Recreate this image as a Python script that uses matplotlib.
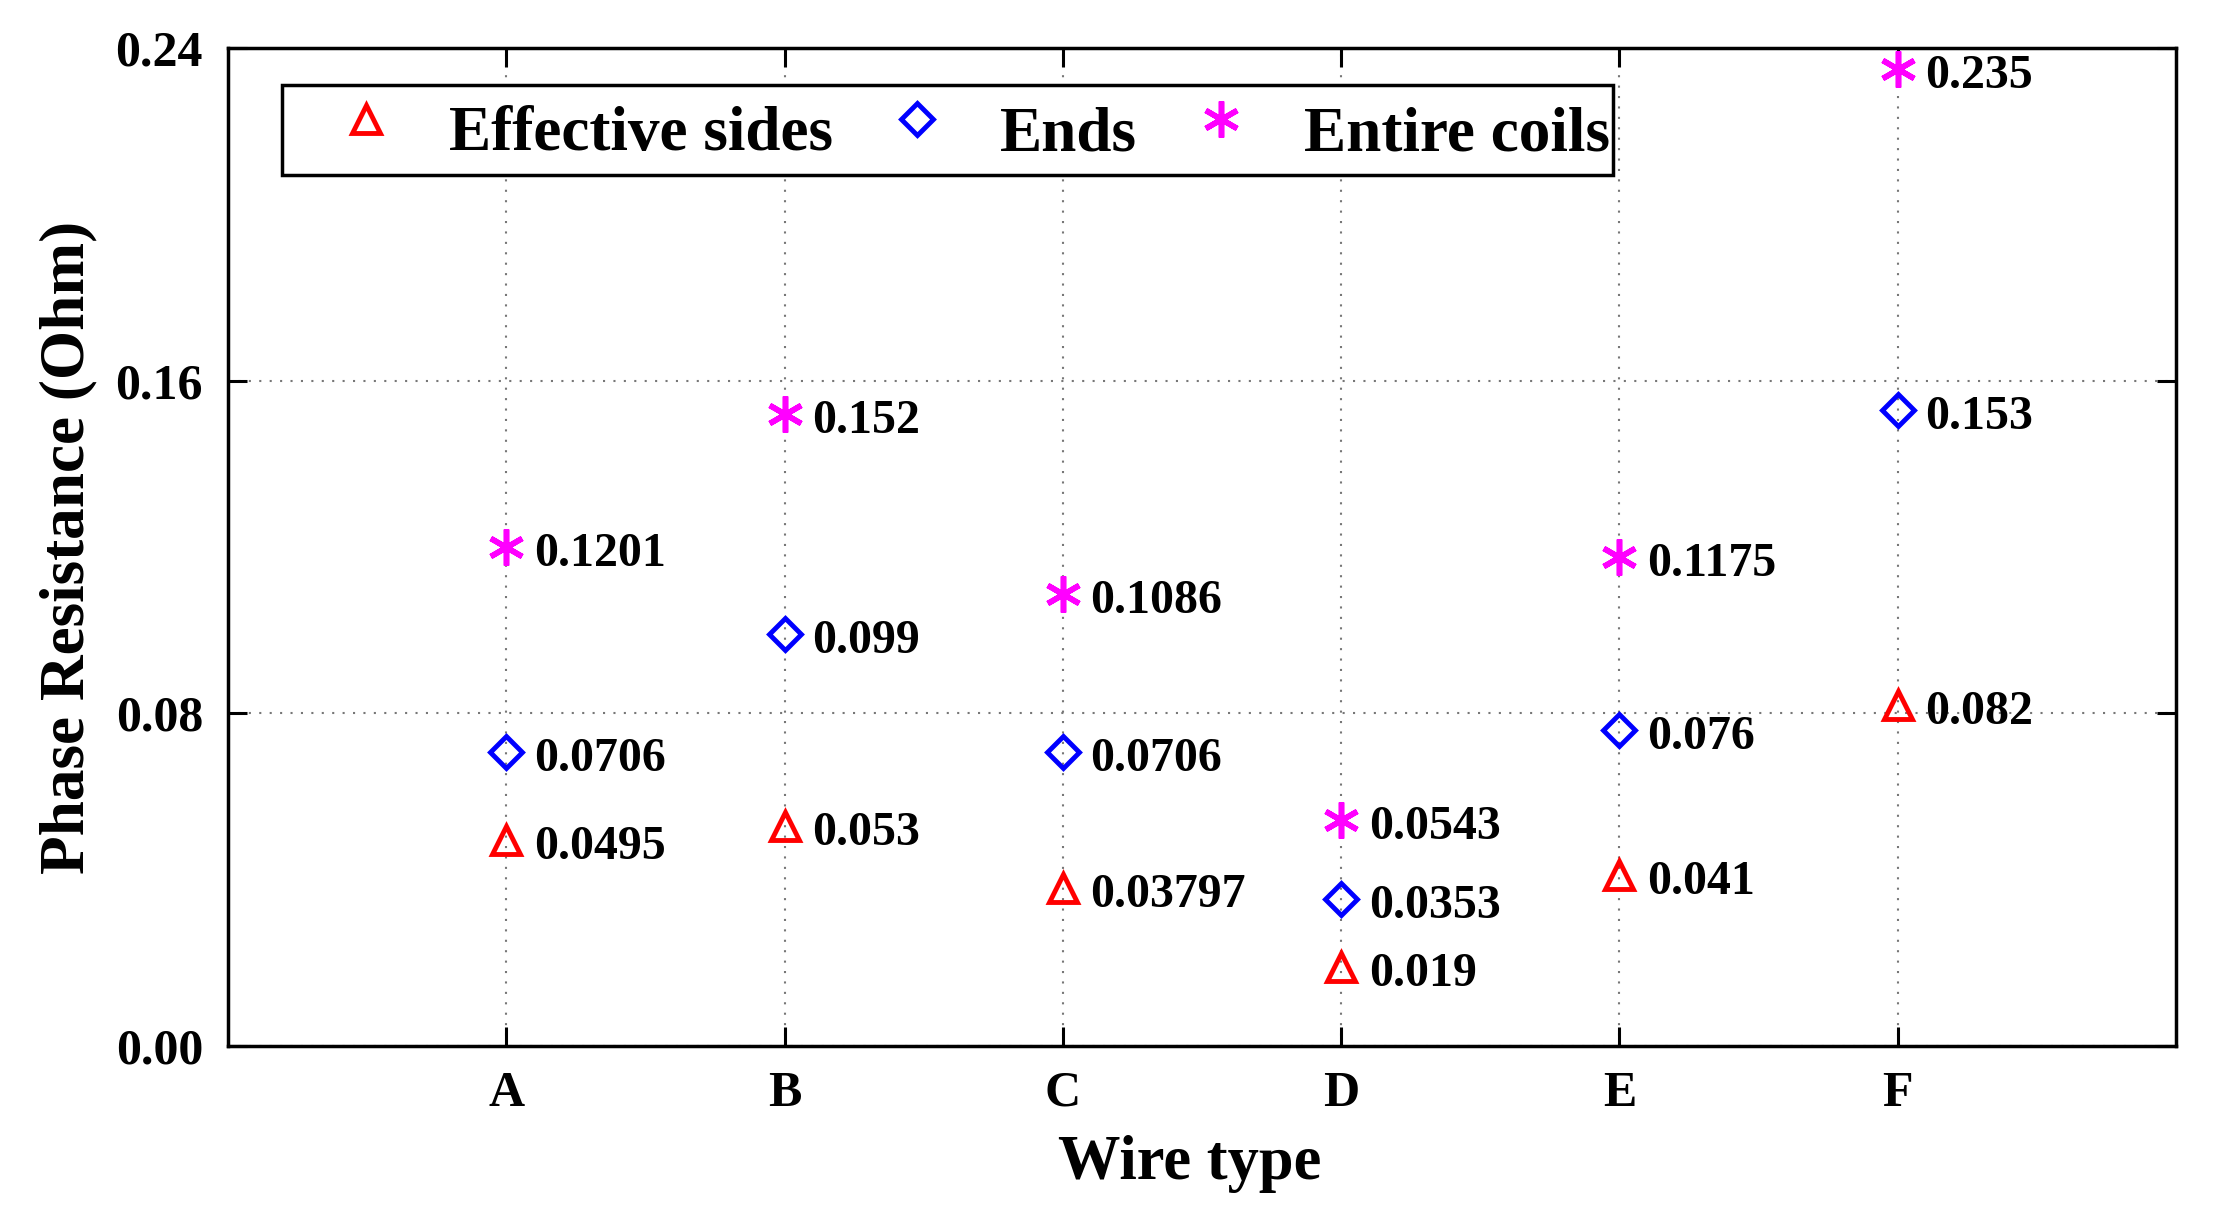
import matplotlib
matplotlib.use("Agg")
import matplotlib.pyplot as plt
import numpy as np

categories = ["A", "B", "C", "D", "E", "F"]
effective_sides = [0.0495, 0.053, 0.03797, 0.019, 0.041, 0.082]
ends = [0.0706, 0.099, 0.0706, 0.0353, 0.076, 0.153]
entire_coils = [0.1201, 0.152, 0.1086, 0.0543, 0.1175, 0.235]
effective_labels = ["0.0495", "0.053", "0.03797", "0.019", "0.041", "0.082"]
ends_labels = ["0.0706", "0.099", "0.0706", "0.0353", "0.076", "0.153"]
entire_labels = ["0.1201", "0.152", "0.1086", "0.0543", "0.1175", "0.235"]
yticks = [0.00, 0.08, 0.16, 0.24]

plt.rcParams['font.family'] = ['Liberation Serif', 'DejaVu Serif']
plt.rcParams['font.weight'] = 'bold'

fig = plt.figure(figsize=(22.17, 12.06), dpi=100)
ax = fig.add_axes([0.1028, 0.1327, 0.9815 - 0.1028, 0.9602 - 0.1327])

x = np.arange(1, len(categories) + 1)

ax.plot(x, effective_sides, linestyle='none', marker='^', markersize=20,
        markerfacecolor='none', markeredgecolor='#ff0000', markeredgewidth=3.5,
        label='Effective sides', zorder=5)
ax.plot(x, ends, linestyle='none', marker='D', markersize=16,
        markerfacecolor='none', markeredgecolor='#0000ff', markeredgewidth=3.5,
        label='Ends', zorder=5)
ax.plot(x, entire_coils, linestyle='none', marker=(6, 2, 0), markersize=26,
        markerfacecolor='none', markeredgecolor='#ff00ff', markeredgewidth=4,
        label='Entire coils', zorder=5)

for vals, labs in [(effective_sides, effective_labels), (ends, ends_labels), (entire_coils, entire_labels)]:
    for xi, v, s in zip(x, vals, labs):
        ax.annotate(s, (xi, v), xytext=(20, -5), textcoords='offset points',
                    ha='left', va='center', fontsize=34.5, fontweight='bold')

ax.set_xlim(0, 7)
ax.set_ylim(0, 0.24)
ax.set_xticks(x)
ax.set_xticklabels(categories)
ax.set_yticks(yticks)
ax.set_yticklabels([f"{t:.2f}" for t in yticks])
ax.tick_params(direction='in', length=14, width=2.2, top=True, right=True,
               labelsize=36, pad=18)
for sp in ax.spines.values():
    sp.set_linewidth(2.5)
ax.grid(True, linestyle=(0, (1, 4)), color='#777777', linewidth=1.5)

ax.set_xlabel('Wire type', fontsize=45, fontweight='bold')
ax.xaxis.set_label_coords(0.4935, -0.089)
ax.set_ylabel('Phase Resistance (Ohm)', fontsize=45.5, fontweight='bold', labelpad=13)

leg = ax.legend(loc='upper left', bbox_to_anchor=(0.028, 0.963), borderaxespad=0,
                ncol=3, fontsize=45.5, frameon=True, fancybox=False,
                edgecolor='black', framealpha=1, handlelength=2.54,
                handleheight=1.65, handletextpad=0.05, columnspacing=0.05,
                borderpad=0.05, markerscale=1.0)
leg.get_frame().set_linewidth(2.5)

fig.savefig('out.png', dpi=100)
